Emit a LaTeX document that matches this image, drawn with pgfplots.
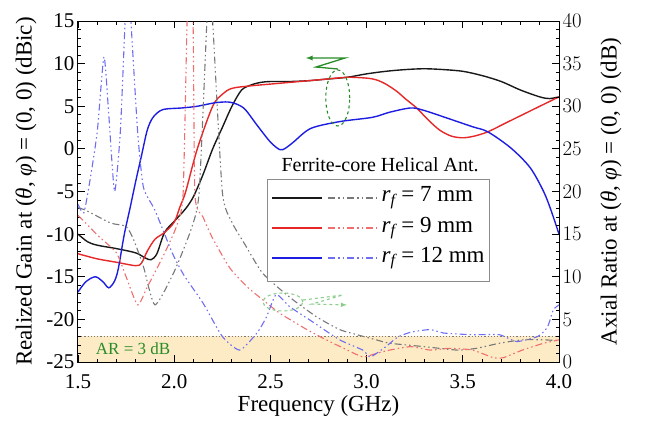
\documentclass[border=0pt]{standalone}
\usepackage{fontspec}
\setmainfont{Liberation Serif}
\usepackage{pgfplots}
\pgfplotsset{compat=1.18}

\definecolor{cblack}{RGB}{25,25,25}
\definecolor{cred}{RGB}{230,40,40}
\definecolor{cblue}{RGB}{30,30,225}
\definecolor{dgray}{RGB}{120,120,120}
\definecolor{dred}{RGB}{240,110,110}
\definecolor{dblue}{RGB}{110,110,240}
\definecolor{arfill}{RGB}{253,235,198}
\definecolor{agreen}{RGB}{40,140,40}
\definecolor{lgreen}{RGB}{140,205,140}

\tikzset{ddot/.style={dash pattern=on 7pt off 3pt on 1.5pt off 3pt on 1.5pt off 3pt, line width=1.1pt}}

\begin{document}
\begin{tikzpicture}
\begin{axis}[name=ax,
    scale only axis, width=481pt, height=341pt,
    xmin=1.5, xmax=4, ymin=-25, ymax=15,
    xtick={1.5,2,2.5,3,3.5,4}, xticklabels={1.5,2.0,2.5,3.0,3.5,4.0},
    ytick={-25,-20,-15,-10,-5,0,5,10,15},
    yticklabels={-25,-20,-15,-10,-5,0,5,10,15},
    minor x tick num=4, minor y tick num=4,
    tick align=inside, xtick pos=both, ytick pos=left,
    major tick length=7pt, minor tick length=3.5pt,
    tick style={black, line width=0.9pt},
    axis line style={line width=1pt},
    axis on top,
    ticklabel style={font=\fontsize{21}{21}\selectfont},
    xticklabel style={yshift=-9pt},
    label style={font=\fontsize{23}{23}\selectfont},
    xlabel={Frequency (GHz)},
    ylabel={Realized Gain at (\textit{θ}, \textit{φ}) = (0, 0) (dBic)},
    xlabel style={yshift=0pt},
    ylabel style={yshift=3pt},
]
\addplot[fill=arfill, draw=none] coordinates {(1.5,-25) (1.5,-22) (4,-22) (4,-25)} -- cycle;
\addplot[dgray, dotted, line width=1.2pt] coordinates {(1.5,-22) (4,-22)};

% r_f = 7 mm
\addplot[cblack, line width=1.4pt, smooth, tension=0.5] coordinates {
(1.5,-10.0) (1.55,-10.9) (1.6,-11.3) (1.7,-11.7) (1.8,-12.2) (1.85,-12.8) (1.88,-13.0)
(1.91,-12.3) (1.95,-9.8) (2.0,-8.5) (2.06,-7.0) (2.1,-5.6) (2.15,-3.0) (2.2,0) (2.25,2.5)
(2.3,5.0) (2.35,6.9) (2.4,7.5) (2.45,7.8) (2.5,7.9) (2.6,7.9) (2.7,8.0) (2.8,8.2) (2.9,8.4)
(3.0,8.8) (3.1,9.1) (3.2,9.3) (3.3,9.4) (3.4,9.3) (3.5,9.1) (3.6,8.6) (3.7,7.9) (3.8,6.9)
(3.9,6.1) (3.95,5.9) (4.0,6.1)};
% r_f = 9 mm
\addplot[cred, line width=1.4pt, smooth, tension=0.5] coordinates {
(1.5,-12.3) (1.6,-12.9) (1.7,-13.3) (1.8,-13.7) (1.83,-13.4) (1.86,-12.0) (1.9,-10.6)
(1.95,-9.8) (2.0,-8.6) (2.03,-6.8) (2.06,-5.0) (2.12,0) (2.2,5.0) (2.25,6.4) (2.3,7.1)
(2.4,7.4) (2.5,7.6) (2.6,7.8) (2.7,8.0) (2.8,8.2) (2.9,8.4) (3.0,8.3) (3.05,8.1) (3.1,7.6)
(3.16,6.7) (3.2,5.9) (3.26,4.8) (3.32,3.4) (3.38,2.2) (3.44,1.5) (3.5,1.3) (3.56,1.5)
(3.63,2.0) (3.72,3.0) (3.81,4.0) (3.9,5.0) (4.0,6.1)};
% r_f = 12 mm
\addplot[cblue, line width=1.4pt, smooth, tension=0.5] coordinates {
(1.5,-16.8) (1.54,-15.6) (1.59,-15.0) (1.63,-15.6) (1.66,-16.3) (1.69,-15.5) (1.71,-14.0)
(1.74,-10.1) (1.77,-7.0) (1.8,-3.8) (1.83,-0.8) (1.86,2.2) (1.89,3.7) (1.94,4.6) (2.04,4.8)
(2.12,5.0) (2.21,5.4) (2.28,5.5) (2.33,5.2) (2.37,4.6) (2.43,2.8) (2.5,0.8) (2.55,-0.1)
(2.58,0.1) (2.62,0.8) (2.71,2.4) (2.86,3.2) (3.03,3.7) (3.12,4.3) (3.23,4.8) (3.3,4.5)
(3.42,3.6) (3.55,2.6) (3.63,2.0) (3.75,0.1) (3.85,-2.2) (3.92,-5.0) (3.96,-7.3) (4.0,-10.0)};
\end{axis}

\begin{axis}[at={(ax.south west)}, anchor=south west,
    scale only axis, width=481pt, height=341pt,
    xmin=1.5, xmax=4, ymin=0, ymax=40,
    axis x line=none, axis y line*=right,
    ytick={0,5,...,40}, minor y tick num=4,
    tick align=inside,
    major tick length=7pt, minor tick length=3.5pt,
    tick style={black, line width=0.9pt},
    axis line style={line width=1pt},
    ticklabel style={font=\fontsize{21}{21}\selectfont},
    label style={font=\fontsize{23}{23}\selectfont},
    ylabel={Axial Ratio at (\textit{θ}, \textit{φ}) = (0, 0) (dB)},
    ylabel style={yshift=-12pt},
]
\addplot[dgray, ddot, smooth, tension=0.35] coordinates {
(1.5,18.1) (1.54,17.8) (1.67,16.3) (1.75,15.9) (1.79,14.3) (1.84,11.2) (1.9,6.7) (2.0,10.6)
(2.09,15.7) (2.13,20) (2.17,40) (2.185,45) (2.2,40) (2.25,20) (2.3,16.4) (2.37,13.7)
(2.46,10.4) (2.6,7.6) (2.74,5.3) (2.86,3.8) (2.95,3.2) (3.05,2.6) (3.12,2.2) (3.3,1.8)
(3.47,1.4) (3.57,1.6) (3.69,2.2) (3.81,2.6) (3.92,2.6) (4.0,2.5)};
\addplot[dred, ddot, smooth, tension=0.35] coordinates {
(1.5,17.2) (1.61,14.7) (1.7,12.8) (1.75,10) (1.81,6.7) (1.86,8.8) (1.94,12.3) (2.01,15.8)
(2.046,19.6) (2.067,40) (2.08,46) (2.098,40) (2.108,19.6) (2.15,17) (2.2,14.5) (2.29,11)
(2.38,8.8) (2.46,7.3) (2.55,5.7) (2.69,3.8) (2.79,2.6) (2.9,1.4) (2.98,0.6) (3.05,1.0)
(3.12,1.4) (3.23,1.8) (3.33,1.4) (3.43,1.6) (3.55,1.4) (3.66,0.5) (3.71,0.5) (3.81,1.4)
(3.92,2.2) (4.0,2.6)};
\addplot[dblue, ddot, smooth, tension=0.35] coordinates {
(1.5,18.5) (1.53,17.5) (1.56,21) (1.6,27) (1.635,35.8) (1.66,29) (1.69,20) (1.72,27)
(1.745,40) (1.76,45) (1.775,40) (1.81,27) (1.84,20.5) (1.9,17.8) (1.99,12.8) (2.05,10.2)
(2.15,6.9) (2.25,3) (2.34,1.4) (2.43,3.4) (2.48,5.3) (2.53,7.9) (2.6,6.5) (2.72,4.7)
(2.86,2.6) (2.98,1.4) (3.02,0.6) (3.1,1.8) (3.16,2.9) (3.23,3.5) (3.33,3.8) (3.4,3.4)
(3.55,3.2) (3.69,3.2) (3.78,2.4) (3.89,3.0) (3.94,4.1) (3.97,6.1) (4.0,6.7)};

\node[anchor=west, text=agreen, font=\fontsize{17}{17}\selectfont] at (axis cs:1.575,1.6) {AR = 3 dB};

% legend
\node[font=\fontsize{20}{20}\selectfont] at (axis cs:3.07,23.1) {Ferrite-core Helical Ant.};
\draw[draw=black!45, fill=white, line width=0.8pt] (axis cs:2.482,9.4) rectangle (axis cs:3.636,21.47);
\draw[cblack, line width=1.4pt] (axis cs:2.508,19.24) -- (axis cs:2.768,19.24);
\draw[dgray, ddot] (axis cs:2.80,19.24) -- (axis cs:3.05,19.24);
\draw[cred, line width=1.4pt] (axis cs:2.508,15.72) -- (axis cs:2.768,15.72);
\draw[dred, ddot] (axis cs:2.80,15.72) -- (axis cs:3.05,15.72);
\draw[cblue, line width=1.4pt] (axis cs:2.508,12.2) -- (axis cs:2.768,12.2);
\draw[dblue, ddot] (axis cs:2.80,12.2) -- (axis cs:3.05,12.2);
\node[anchor=west, font=\fontsize{23}{23}\selectfont] at (axis cs:3.06,19.24) {\textit{r}\textsubscript{\textit{f}}\,= 7 mm};
\node[anchor=west, font=\fontsize{23}{23}\selectfont] at (axis cs:3.06,15.72) {\textit{r}\textsubscript{\textit{f}}\,= 9 mm};
\node[anchor=west, font=\fontsize{23}{23}\selectfont] at (axis cs:3.06,12.2) {\textit{r}\textsubscript{\textit{f}}\,= 12 mm};

% annotations
\draw[agreen, dashed, line width=1.1pt] (axis cs:2.85,30.97) ellipse [x radius=12pt, y radius=28pt];
\draw[agreen, line width=1.3pt, -latex] (axis cs:2.851,34.37) -- (axis cs:2.737,34.6) -- (axis cs:2.888,35.66) -- (axis cs:2.685,35.66);
\draw[lgreen, dashed, line width=1.1pt] (axis cs:2.565,7.04) ellipse [x radius=20pt, y radius=9pt];
\draw[lgreen, dashed, line width=1.1pt, -latex] (axis cs:2.669,7.27) -- (axis cs:2.877,7.86) -- (axis cs:2.716,6.8) -- (axis cs:2.898,6.69);
\end{axis}
\pgfresetboundingbox
\useasboundingbox ([xshift=-78pt,yshift=-59pt]ax.south west) rectangle ([xshift=568pt,yshift=362pt]ax.south west);
\end{tikzpicture}
\end{document}
